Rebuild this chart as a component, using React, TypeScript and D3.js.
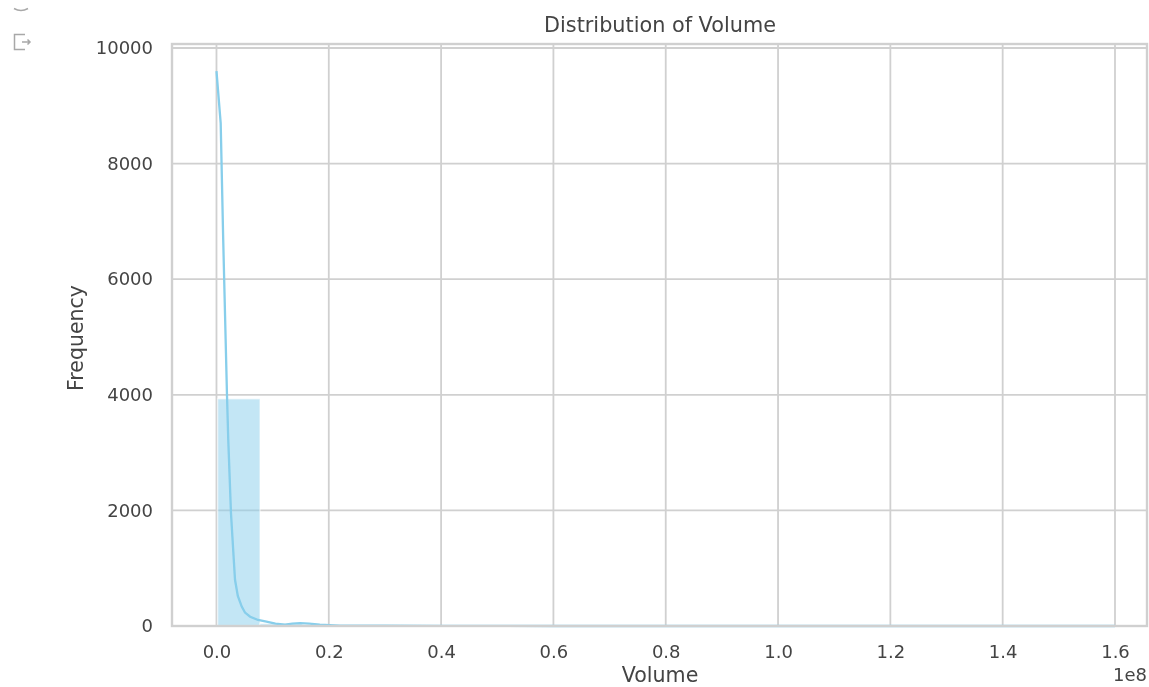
import { useEffect, useRef } from "react";
import * as d3 from "d3";

const WIDTH = 1149;
const HEIGHT = 687;

// histogram bins, in units of 1e8
const binStarts = [0.002, 0.0775, 0.153, 0.2285, 0.304, 0.3795];
const binEnds = [0.0775, 0.153, 0.2285, 0.304, 0.3795, 0.455];
const binCounts = [3930, 40, 12, 4, 2, 1];

// kde line
const kdeX = [0, 0.0075, 0.012, 0.0187, 0.021, 0.0258, 0.033, 0.038, 0.045, 0.0508, 0.06, 0.074, 0.089, 0.105, 0.122, 0.135, 0.149, 0.165, 0.184, 0.22, 0.3, 0.4, 0.6, 1.0, 1.6];
const kdeY = [9600, 8700, 6680, 4000, 3220, 1955, 800, 520, 335, 233, 160, 104, 75, 42, 25, 40, 50, 40, 25, 8, 6, 2, 0, 0, 0];

const xTicks = [0, 0.2, 0.4, 0.6, 0.8, 1.0, 1.2, 1.4, 1.6];
const yTicks = [0, 2000, 4000, 6000, 8000, 10000];

const GRID = "#d0d0d0";
const TEXT = "#444444";
const BLUE = "#87ceeb";
const FONT = "'DejaVu Sans', sans-serif";

export default function App() {
  const svgRef = useRef<SVGSVGElement>(null);

  useEffect(() => {
    if (!svgRef.current) return;
    const svg = d3.select(svgRef.current);
    svg.selectAll("*").remove();

    const margin = { top: 44, right: 2, bottom: 61, left: 172 };
    const x = d3
      .scaleLinear()
      .domain([-0.0792, 1.657])
      .range([margin.left, WIDTH - margin.right]);
    const y = d3
      .scaleLinear()
      .domain([0, 10069])
      .range([HEIGHT - margin.bottom, margin.top]);

    // Grid
    svg
      .append("g")
      .selectAll("line")
      .data(xTicks)
      .join("line")
      .attr("x1", (d) => x(d))
      .attr("x2", (d) => x(d))
      .attr("y1", margin.top)
      .attr("y2", y(0))
      .attr("stroke", GRID)
      .attr("stroke-width", 1.8);
    svg
      .append("g")
      .selectAll("line")
      .data(yTicks)
      .join("line")
      .attr("x1", margin.left)
      .attr("x2", WIDTH - margin.right)
      .attr("y1", (d) => y(d))
      .attr("y2", (d) => y(d))
      .attr("stroke", GRID)
      .attr("stroke-width", 1.8);

    // Bars
    svg
      .append("g")
      .selectAll("rect")
      .data(binCounts)
      .join("rect")
      .attr("x", (_, i) => x(binStarts[i]))
      .attr("y", (d) => y(d))
      .attr("width", (_, i) => x(binEnds[i]) - x(binStarts[i]))
      .attr("height", (d) => y(0) - y(d))
      .attr("fill", BLUE)
      .attr("fill-opacity", 0.5)
      .attr("stroke", "#ffffff")
      .attr("stroke-opacity", 0.5)
      .attr("stroke-width", 1.5);

    // KDE
    const line = d3
      .line<number>()
      .x((d) => x(d))
      .y((_, i) => y(kdeY[i]));
    svg
      .append("path")
      .attr("d", line(kdeX))
      .attr("fill", "none")
      .attr("stroke", BLUE)
      .attr("stroke-width", 2.3);

    // Spines
    svg
      .append("rect")
      .attr("x", margin.left)
      .attr("y", margin.top)
      .attr("width", WIDTH - margin.left - margin.right)
      .attr("height", y(0) - margin.top)
      .attr("fill", "none")
      .attr("stroke", GRID)
      .attr("stroke-width", 2.4);

    // Axes, only the labels are kept
    const xAxis = svg
      .append("g")
      .attr("transform", `translate(0,${y(0)})`)
      .call(
        d3
          .axisBottom(x)
          .tickValues(xTicks)
          .tickSize(0)
          .tickPadding(19)
          .tickFormat(d3.format(".1f") as any)
      );
    const yAxis = svg
      .append("g")
      .attr("transform", `translate(${margin.left},0)`)
      .call(d3.axisLeft(y).tickValues(yTicks).tickSize(0).tickPadding(19));
    yAxis.selectAll("text").text((d: any) => String(d));
    for (const axis of [xAxis, yAxis]) {
      axis.select(".domain").remove();
      axis
        .selectAll("text")
        .attr("fill", TEXT)
        .style("font-family", FONT)
        .style("font-size", "18px");
    }

    const label = (text: string, px: number, py: number, size: number) =>
      svg
        .append("text")
        .attr("x", px)
        .attr("y", py)
        .attr("text-anchor", "middle")
        .attr("dominant-baseline", "middle")
        .attr("fill", TEXT)
        .style("font-family", FONT)
        .style("font-size", `${size}px`)
        .text(text);

    label("Distribution of Volume", 660, 26, 20.8);
    label("Volume", 660, 676, 20.6);
    label("Frequency", 77, 338, 20.5).attr("transform", "rotate(-90 77 338)");
    label("1e8", 1130, 676, 18);

    // Notebook cell icons at the top left corner
    const icons = svg.append("g").attr("fill", "none").attr("stroke", "#a8a8a8").attr("stroke-width", 1.5);
    icons.append("path").attr("d", "M14 8.5 Q21 12.5 28 8.5");
    icons.append("path").attr("d", "M25 34.5 H14.5 V49.5 H25 M22 42 H30 M27.5 39.5 L30 42 L27.5 44.5");
  }, []);

  return (
    <svg
      ref={svgRef}
      width={WIDTH}
      height={HEIGHT}
      style={{ position: "absolute", left: 0, top: 0, filter: "blur(0.5px)" }}
    />
  );
}
